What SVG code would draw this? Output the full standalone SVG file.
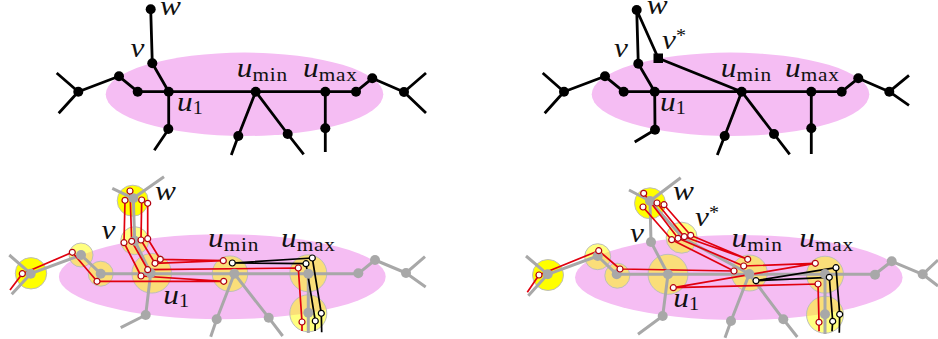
<svg xmlns="http://www.w3.org/2000/svg" width="938" height="339" viewBox="0 0 938 339">
<style>
.pink{fill:#f5bdf3}
.blk{fill:none;stroke:#000;stroke-width:2.8;stroke-linecap:butt;stroke-linejoin:round}
.nb{fill:#000}
.gry{fill:none;stroke:#a8a8a8;stroke-width:3;stroke-linejoin:round}
.ng{fill:#a8a8a8}
.y1{fill:#ffff00;stroke:#bdbdbd;stroke-width:1}
.y2{fill:#ffff00;fill-opacity:.5;stroke:#bdbdbd;stroke-width:1}
.red{fill:none;stroke:#e0000f;stroke-width:1.7;stroke-linejoin:round}
.bk{fill:none;stroke:#000;stroke-width:1.7;stroke-linejoin:round}
.dr{fill:#fff;stroke:#b00010;stroke-width:1.2}
.dk{fill:#fff;stroke:#000;stroke-width:1.2}
text{font-family:"Liberation Serif","Times New Roman",serif;fill:#111}
.m{font-style:italic;font-size:28px}
.s{font-style:normal;font-size:18px}
.o{font-style:normal;font-size:19px;letter-spacing:.7px}
</style>
<defs>
<circle id="b" r="5" class="nb"/>
<circle id="g" r="5" class="ng"/>
<circle id="r" r="3" class="dr"/>
<circle id="k" r="3" class="dk"/>
</defs>

<g id="panel-a">
<ellipse id="region-a" class="pink" cx="244.5" cy="94.3" rx="138.8" ry="41.7"/>
<g id="connectors-a">
<path class="blk" d="M150.7 9.3L152.3 63.3L168.7 91.7M137.7 91.7H356L372.3 78.3L404 92M119 76.3L137.7 91.7M56.7 73L78.3 91.7L119 76.3M78.3 91.7L58.7 113.3M168.7 91.7V129L154.3 150.3M255.7 91.7L238.3 136L231.3 155M255.7 91.7L287.7 134L303.7 154.3M325.3 91.7V152M426 73L404 92L426 113"/>
</g>
<g id="a-w"><use href="#b" x="150.7" y="9.3"/><text class="m" transform="translate(160 15) scale(1.12 1)">w</text></g>
<g id="a-v"><use href="#b" x="152.3" y="63.3"/><text class="m" transform="translate(130.500 57) scale(1.12 1)">v</text></g>
<g id="a-u1"><use href="#b" x="168.7" y="91.7"/><text class="m" transform="translate(177 111) scale(1.12 1)">u<tspan class="s" dy="3">1</tspan></text></g>
<g id="a-umin"><use href="#b" x="255.7" y="91.7"/><text class="m" transform="translate(236.700 76.500) scale(1.12 1)">u<tspan class="o" dy="4">min</tspan></text></g>
<g id="a-umax"><use href="#b" x="325.3" y="91.7"/><text class="m" transform="translate(303 76.500) scale(1.12 1)">u<tspan class="o" dy="4">max</tspan></text></g>
<g id="a-n1"><use href="#b" x="137.7" y="91.7"/></g>
<g id="a-n2"><use href="#b" x="119" y="76.3"/></g>
<g id="a-n3"><use href="#b" x="78.3" y="91.7"/></g>
<g id="a-n4"><use href="#b" x="168.3" y="129"/></g>
<g id="a-n5"><use href="#b" x="238.3" y="136"/></g>
<g id="a-n6"><use href="#b" x="287.7" y="134"/></g>
<g id="a-n7"><use href="#b" x="325.3" y="128.3"/></g>
<g id="a-n8"><use href="#b" x="356" y="91.7"/></g>
<g id="a-n9"><use href="#b" x="372.3" y="78.3"/></g>
<g id="a-n10"><use href="#b" x="404" y="92"/></g>
</g>

<g id="panel-b">
<ellipse id="region-b" class="pink" cx="730.5" cy="94.3" rx="138.8" ry="41.7"/>
<g id="connectors-b">
<path class="blk" d="M636.7 10L638.3 63.7L654.7 91.7M636.7 10L658.3 58.3L741.7 91.7M623.7 91.7H841.7L858.3 78.3L889.3 91.7M605 76.3L623.7 91.7M542.7 73L564 91.7L605 76.3M564 91.7L544.7 113.3M654.7 91.7L655 129.7L634.7 142M741.7 91.7L724.7 136L717.3 155M741.7 91.7L774 134L789.7 154.3M811.3 91.7V154M909 75.3L889.3 91.7L909 105.3"/>
</g>
<g id="b-w"><use href="#b" x="636.7" y="10"/><text class="m" transform="translate(646.700 14) scale(1.12 1)">w</text></g>
<g id="b-v"><use href="#b" x="638.3" y="63.7"/><text class="m" transform="translate(614 57) scale(1.12 1)">v</text></g>
<g id="b-vstar"><rect class="nb" x="653.500" y="53.500" width="9.500" height="9.500"/><text class="m" transform="translate(662 48.500) scale(1.12 1)">v<tspan class="s" dy="-7">*</tspan></text></g>
<g id="b-u1"><use href="#b" x="654.7" y="91.7"/><text class="m" transform="translate(660 111) scale(1.12 1)">u<tspan class="s" dy="3">1</tspan></text></g>
<g id="b-umin"><use href="#b" x="741.7" y="91.7"/><text class="m" transform="translate(720.700 76.500) scale(1.12 1)">u<tspan class="o" dy="4">min</tspan></text></g>
<g id="b-umax"><use href="#b" x="811.3" y="91.7"/><text class="m" transform="translate(785 76.500) scale(1.12 1)">u<tspan class="o" dy="4">max</tspan></text></g>
<g id="b-n1"><use href="#b" x="623.7" y="91.7"/></g>
<g id="b-n2"><use href="#b" x="605" y="76.3"/></g>
<g id="b-n3"><use href="#b" x="564" y="91.7"/></g>
<g id="b-n4"><use href="#b" x="655" y="129.7"/></g>
<g id="b-n5"><use href="#b" x="724.7" y="136"/></g>
<g id="b-n6"><use href="#b" x="774" y="134"/></g>
<g id="b-n7"><use href="#b" x="811.3" y="128.3"/></g>
<g id="b-n8"><use href="#b" x="841.7" y="91.7"/></g>
<g id="b-n9"><use href="#b" x="858.3" y="78.3"/></g>
<g id="b-n10"><use href="#b" x="889.3" y="91.7"/></g>
</g>

<g id="panel-c">
<ellipse id="region-c" class="pink" cx="222.3" cy="276.8" rx="163.400" ry="42.500"/>
<circle class="y1" cx="132.700" cy="200.700" r="15.500"/>
<circle class="y1" cx="31" cy="273.300" r="15.700"/>
<circle class="y2" cx="81" cy="255" r="12"/>
<circle class="y2" cx="100.700" cy="273.700" r="12.500"/>
<circle class="y2" cx="134.700" cy="240.700" r="14"/>
<circle class="y2" cx="151.700" cy="273.300" r="19.800"/>
<circle class="y2" cx="230" cy="273.700" r="17.800"/>
<circle class="y2" cx="308.300" cy="273.300" r="18.500"/>
<circle class="y2" cx="308.300" cy="313.300" r="18.500"/>
<g id="connectors-c">
<path class="gry" d="M112.300 188.300L133.300 198.300L164 176.700M133.300 198.300L134.700 240.700L150.700 273.300M100.700 273.700H358.300L375 260L406 273M81 255L100.700 273.700M9.300 255L30.700 273.700L81 255M30.700 273.700L11.700 294.300M150.700 273.300L145.700 315L120.700 327.700M234.300 273.700L216.700 319.300L210.700 336.700M234.300 273.700L268.700 317.700L282.700 336M308.300 273.700V333M425 256.700L406 273L425.700 287"/>
<path class="red" d="M10 290L22.300 273.700L72.300 252.300L97 281.300L223.700 281.300M125 200.300L124 242.700L141 276L223.700 281.300M130 191L131.700 241.300L147.700 269.700L298.300 268L302 322V331M141.700 200L141 240L155 263.300L223.300 260.700M147.700 203.300V238.700L160.300 259.300L223.300 260.700"/>
<path class="bk" d="M232.300 263L312.300 258L321.300 313.300L321.700 332.300M232.300 263L306 263.700L315.300 321L315 331"/>
</g>
<g id="c-w"><use href="#g" x="133.300" y="198.300"/><text class="m" transform="translate(155 200) scale(1.12 1)">w</text></g>
<g id="c-v"><use href="#g" x="134.700" y="240.700"/><text class="m" transform="translate(101.500 238.500) scale(1.12 1)">v</text></g>
<g id="c-u1"><use href="#g" x="150.700" y="273.300"/><text class="m" transform="translate(163.300 304) scale(1.12 1)">u<tspan class="s" dy="3">1</tspan></text></g>
<g id="c-umin"><use href="#g" x="234.300" y="273.700"/><text class="m" transform="translate(208 246.700) scale(1.12 1)">u<tspan class="o" dy="4">min</tspan></text></g>
<g id="c-umax"><use href="#g" x="308.300" y="273.700"/><text class="m" transform="translate(281 246.700) scale(1.12 1)">u<tspan class="o" dy="4">max</tspan></text></g>
<g id="c-n1"><use href="#g" x="100.700" y="273.700"/></g>
<g id="c-n2"><use href="#g" x="81" y="255"/></g>
<g id="c-n3"><use href="#g" x="30.700" y="273.700"/></g>
<g id="c-n4"><use href="#g" x="145.700" y="315"/></g>
<g id="c-n5"><use href="#g" x="216.700" y="319.300"/></g>
<g id="c-n6"><use href="#g" x="268.700" y="317.700"/></g>
<g id="c-n7"><use href="#g" x="308.300" y="312.700"/></g>
<g id="c-n8"><use href="#g" x="358.300" y="273.300"/></g>
<g id="c-n9"><use href="#g" x="375" y="260"/></g>
<g id="c-n10"><use href="#g" x="406" y="273"/></g>
<g id="c-ports">
<use href="#r" x="22.300" y="273.700"/><use href="#r" x="72.300" y="252.300"/><use href="#r" x="97" y="281.300"/>
<use href="#r" x="130" y="191"/><use href="#r" x="125" y="200.300"/><use href="#r" x="141.700" y="200"/><use href="#r" x="147.700" y="203.300"/>
<use href="#r" x="124" y="242.700"/><use href="#r" x="131.700" y="241.300"/><use href="#r" x="141" y="240"/><use href="#r" x="147.700" y="238.700"/>
<use href="#r" x="141" y="276"/><use href="#r" x="147.700" y="269.700"/><use href="#r" x="155" y="263.300"/><use href="#r" x="160.300" y="259.300"/>
<use href="#r" x="223.300" y="260.700"/><use href="#r" x="223.700" y="281.300"/><use href="#k" x="232.300" y="263"/>
<use href="#k" x="312.300" y="258"/><use href="#k" x="306" y="263.700"/><use href="#r" x="298.300" y="268"/>
<use href="#k" x="321.300" y="313.300"/><use href="#k" x="315.300" y="321"/><use href="#r" x="302" y="322"/>
</g>
</g>

<g id="panel-d">
<ellipse id="region-d" class="pink" cx="738.800" cy="277.500" rx="163.800" ry="42.500"/>
<circle class="y1" cx="650" cy="203.300" r="15.500"/>
<circle class="y1" cx="548" cy="275" r="15.500"/>
<circle class="y2" cx="597.700" cy="256.700" r="13"/>
<circle class="y2" cx="617.300" cy="275.700" r="12.500"/>
<circle class="y2" cx="681.700" cy="237.700" r="15.500"/>
<circle class="y2" cx="668" cy="274.300" r="20"/>
<circle class="y2" cx="749.300" cy="273" r="18"/>
<circle class="y2" cx="825" cy="274.700" r="18.500"/>
<circle class="y2" cx="825" cy="314.700" r="18.500"/>
<g id="connectors-d">
<path class="gry" d="M629 190L650 201L680.700 177.700M650 201L651 242L668 274.300M650 201L683 238L749.300 274M616.700 274.300H875L891.700 261.300L922.700 274.300M597.700 256L616.700 274.300M526 256L547.700 274.300L597.700 256M547.700 274.300L528.300 295.700M668 274.300L662.700 316L638 334.300M749.300 274L731 321L725 337.700M749.300 274L783.300 319.300L797.300 337M825 274V334M938 260L922.700 274.300L938 286"/>
<path class="red" d="M527.300 292.300L539 275L598.700 250.700L620 269L734 271M643 207L671.700 239.700L734 271M643.700 193.300L678 238.300L743.700 266L815.300 263.300M657 203L684.300 236.700L747.700 259.300M664 204.700L690.700 235.300L747.700 259.300M673.300 287.700L815.300 263.300M673.300 287.700L818 284L819 322.300V331.300"/>
<path class="bk" d="M756 280.700L836 267.700L839.700 314.300L839.300 332.700M756 280.700L829.300 277.300L832.700 321.300L832 331.300"/>
</g>
<g id="d-w"><use href="#g" x="650" y="201"/><text class="m" transform="translate(673 200) scale(1.12 1)">w</text></g>
<g id="d-v"><use href="#g" x="651" y="242"/><text class="m" transform="translate(630 241.700) scale(1.12 1)">v</text></g>
<g id="d-vstar"><text class="m" transform="translate(695 226) scale(1.12 1)">v<tspan class="s" dy="-7">*</tspan></text></g>
<g id="d-u1"><use href="#g" x="668" y="274.300"/><text class="m" transform="translate(673.300 306.500) scale(1.12 1)">u<tspan class="s" dy="3">1</tspan></text></g>
<g id="d-umin"><use href="#g" x="749.300" y="274"/><text class="m" transform="translate(731.500 246.700) scale(1.12 1)">u<tspan class="o" dy="4">min</tspan></text></g>
<g id="d-umax"><use href="#g" x="825" y="274"/><text class="m" transform="translate(799.300 246.700) scale(1.12 1)">u<tspan class="o" dy="4">max</tspan></text></g>
<g id="d-n1"><use href="#g" x="616.700" y="274.300"/></g>
<g id="d-n2"><use href="#g" x="597.700" y="256"/></g>
<g id="d-n3"><use href="#g" x="547.700" y="274.300"/></g>
<g id="d-n4"><use href="#g" x="662.700" y="316"/></g>
<g id="d-n5"><use href="#g" x="731" y="321"/></g>
<g id="d-n6"><use href="#g" x="783.300" y="319.300"/></g>
<g id="d-n7"><use href="#g" x="825" y="314.300"/></g>
<g id="d-n8"><use href="#g" x="875" y="274.700"/></g>
<g id="d-n9"><use href="#g" x="891.700" y="261.300"/></g>
<g id="d-n10"><use href="#g" x="922.700" y="274.300"/></g>
<g id="d-ports">
<use href="#r" x="539" y="275"/><use href="#r" x="598.700" y="250.700"/><use href="#r" x="620" y="269"/><use href="#r" x="673.300" y="287.700"/>
<use href="#r" x="643.700" y="193.300"/><use href="#r" x="643" y="207"/><use href="#r" x="657" y="203"/><use href="#r" x="664" y="204.700"/>
<use href="#r" x="671.700" y="239.700"/><use href="#r" x="678" y="238.300"/><use href="#r" x="684.300" y="236.700"/><use href="#r" x="690.700" y="235.300"/>
<use href="#r" x="747.700" y="259.300"/><use href="#r" x="743.700" y="266"/><use href="#r" x="734" y="271"/><use href="#k" x="756" y="280.700"/>
<use href="#r" x="815.300" y="263.300"/><use href="#k" x="836" y="267.700"/><use href="#k" x="829.300" y="277.300"/><use href="#r" x="818" y="284"/>
<use href="#k" x="839.700" y="314.300"/><use href="#k" x="832.700" y="321.300"/><use href="#r" x="819" y="322.300"/>
</g>
</g>
</svg>
